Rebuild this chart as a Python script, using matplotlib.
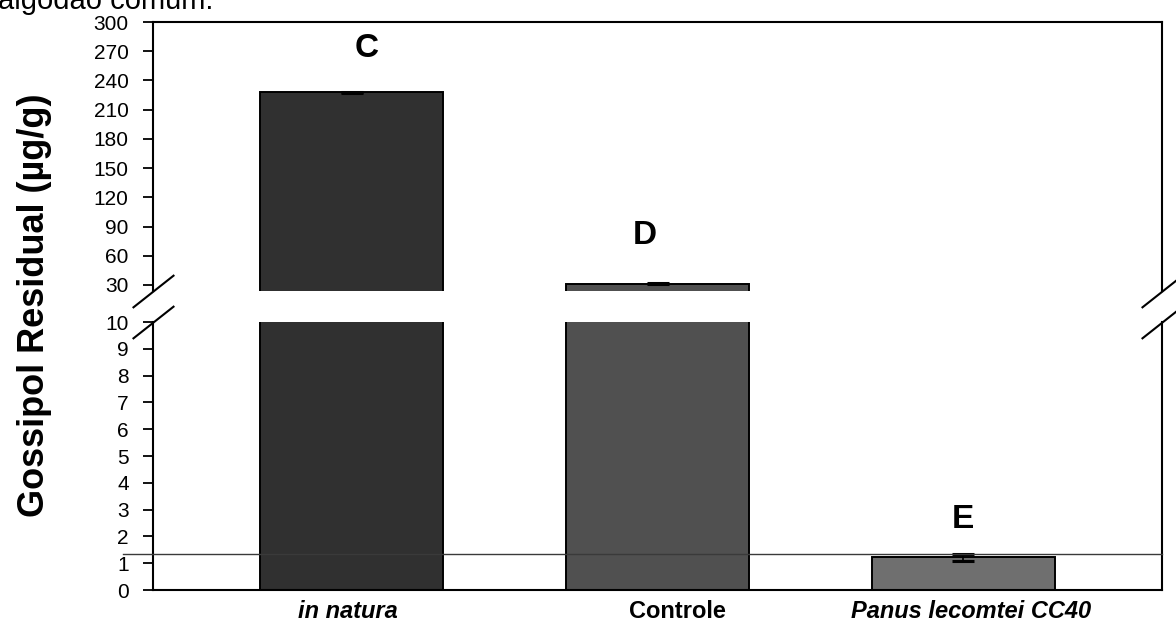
import matplotlib
matplotlib.use("Agg")
import matplotlib.pyplot as plt
import numpy as np

plt.rcParams["font.family"] = ["Liberation Sans", "DejaVu Sans"]

# residual gossypol per treatment (ug/g)
treatments = ["in natura", "Controle", "Panus lecomtei CC40"]
label_styles = ["italic", "normal", "italic"]
gossypol = [227.8, 31.5, 1.22]
gossypol_err = [0.6, 0.4, 0.12]
groups = ["C", "D", "E"]
reference_level = 1.35

bar_colors = ["#303030", "#505050", "#6f6f6f"]
top_ticks = np.arange(30, 301, 30)
low_ticks = np.arange(0, 11, 1)

fig = plt.figure(figsize=(11.76, 6.28), dpi=100)
left, width = 153 / 1176, (1162 - 153) / 1176
ax_top = fig.add_axes([left, 1 - 291 / 628, width, (291 - 22) / 628])
ax_low = fig.add_axes([left, 1 - 590 / 628, width, (590 - 322) / 628])

x = np.arange(len(treatments))
for ax in (ax_top, ax_low):
    ax.bar(x, gossypol, width=0.6, color=bar_colors, edgecolor="black",
           linewidth=1.4, zorder=2)
    ax.errorbar(x, gossypol, yerr=gossypol_err, fmt="none", ecolor="black",
                elinewidth=1.2, capsize=8, capthick=2.2, zorder=3)
    ax.set_xlim(-0.65, 2.65)
    ax.set_xticks([])
    ax.tick_params(axis="y", direction="out", length=7.5, width=1.3,
                   labelsize=15, pad=10)
    for s in ax.spines.values():
        s.set_linewidth(1.5)

ax_top.set_ylim(23.8, 300)
ax_top.set_yticks(top_ticks)
ax_top.spines["bottom"].set_visible(False)

ax_low.set_ylim(0, 10)
ax_low.set_yticks(low_ticks)
ax_low.spines["top"].set_visible(False)

# category names under the bars
name_shift = [-4, 20, 8]
for i, (name, style) in enumerate(zip(treatments, label_styles)):
    ax_low.annotate(name, xy=(x[i], 0), xycoords=("data", "axes fraction"),
                    xytext=(name_shift[i], -10), textcoords="offset pixels",
                    ha="center", va="top", fontsize=17, fontweight="bold",
                    fontstyle=style)

# horizontal reference line, runs a little past the left spine
ax_low.plot([-0.03, 1], [reference_level, reference_level], color="#3a3a3a",
            linewidth=1.0, transform=ax_low.get_yaxis_transform(),
            clip_on=False, zorder=4)

# significance letters
ax_top.text(0.05, 273, groups[0], ha="center", va="center", fontsize=24,
            fontweight="bold")
ax_top.text(0.96, 81, groups[1], ha="center", va="center", fontsize=24,
            fontweight="bold")
ax_low.text(2.0, 2.62, groups[2], ha="center", va="center", fontsize=24,
            fontweight="bold")

# break marks on both sides
d = 0.79
kw = dict(marker=[(-1, -d), (1, d)], markersize=30, linestyle="none",
          color="black", mec="black", mew=1.5, clip_on=False)
ax_top.plot([0, 1], [0, 0], transform=ax_top.transAxes, **kw)
ax_low.plot([0, 1], [1, 1], transform=ax_low.transAxes, **kw)

fig.text(0.029, 0.514, "Gossipol Residual (\u00b5g/g)", rotation=90,
         ha="center", va="center", fontsize=26, fontweight="bold")

fig.text(-0.002, 1 - 9 / 628, "algod\u00e3o comum.", ha="left", va="baseline",
         fontsize=21)

fig.savefig("out.png", dpi=100)
